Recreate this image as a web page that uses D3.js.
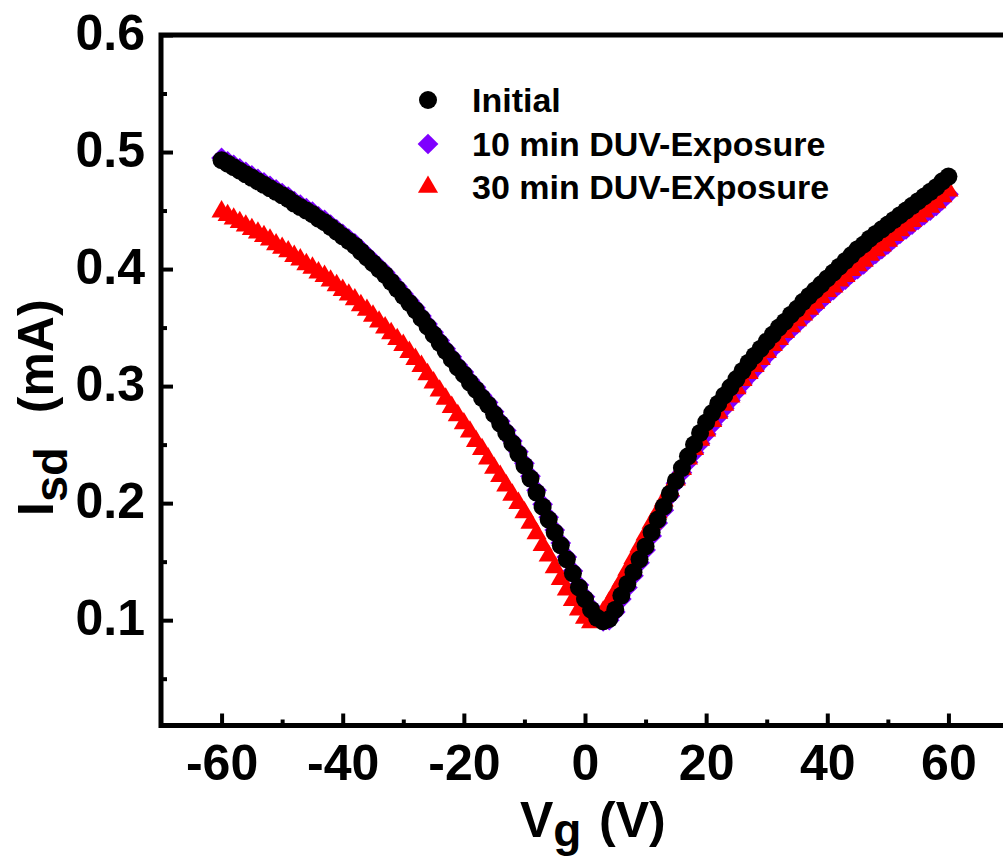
<!DOCTYPE html>
<html>
<head>
<meta charset="utf-8">
<script src="https://cdn.jsdelivr.net/npm/d3@7"></script>
<style>
  html, body { margin: 0; padding: 0; background: #fff; }
  svg { display: block; font-family: "Liberation Sans", Arial, sans-serif; font-weight: bold; }
</style>
</head>
<body>
<script>
// gate voltage sweep (V)
var vg = [
  -60, -59, -58, -57, -56, -55, -54, -53, -52, -51,
  -50, -49, -48, -47, -46, -45, -44, -43, -42, -41,
  -40, -39, -38, -37, -36, -35, -34, -33, -32, -31,
  -30, -29, -28, -27, -26, -25, -24, -23, -22, -21,
  -20, -19, -18, -17, -16, -15, -14, -13, -12, -11,
  -10, -9, -8, -7, -6, -5, -4, -3, -2, -1,
  0, 1, 2, 3, 4, 5, 6, 7, 8, 9,
  10, 11, 12, 13, 14, 15, 16, 17, 18, 19,
  20, 21, 22, 23, 24, 25, 26, 27, 28, 29,
  30, 31, 32, 33, 34, 35, 36, 37, 38, 39,
  40, 41, 42, 43, 44, 45, 46, 47, 48, 49,
  50, 51, 52, 53, 54, 55, 56, 57, 58, 59, 60
];

// Isd (mA) for each series
var isd_initial = [
  0.493, 0.490, 0.487, 0.484, 0.481, 0.478, 0.475, 0.472, 0.469, 0.466,
  0.463, 0.460, 0.456, 0.453, 0.450, 0.447, 0.443, 0.440, 0.436, 0.432,
  0.428, 0.424, 0.420, 0.415, 0.410, 0.405, 0.400, 0.395, 0.389, 0.383,
  0.377, 0.371, 0.365, 0.358, 0.351, 0.344, 0.337, 0.330, 0.323, 0.316,
  0.310, 0.303, 0.297, 0.290, 0.284, 0.276, 0.268, 0.260, 0.251, 0.242,
  0.232, 0.221, 0.209, 0.197, 0.186, 0.175, 0.164, 0.152, 0.140, 0.128,
  0.118, 0.109, 0.102, 0.099, 0.101, 0.109, 0.121, 0.131, 0.141, 0.152,
  0.163, 0.175, 0.186, 0.197, 0.208, 0.219, 0.230, 0.240, 0.250, 0.260,
  0.269, 0.277, 0.285, 0.292, 0.299, 0.306, 0.313, 0.320, 0.326, 0.332,
  0.338, 0.344, 0.350, 0.355, 0.361, 0.366, 0.372, 0.377, 0.382, 0.387,
  0.392, 0.397, 0.402, 0.407, 0.412, 0.417, 0.421, 0.426, 0.430, 0.434,
  0.438, 0.442, 0.446, 0.450, 0.454, 0.458, 0.462, 0.466, 0.470, 0.475, 0.479
];
var isd_10min = [
  0.495, 0.492, 0.489, 0.486, 0.483, 0.480, 0.477, 0.474, 0.471, 0.468,
  0.465, 0.462, 0.458, 0.455, 0.452, 0.449, 0.445, 0.442, 0.438, 0.434,
  0.430, 0.426, 0.422, 0.417, 0.412, 0.407, 0.402, 0.397, 0.391, 0.385,
  0.379, 0.373, 0.367, 0.360, 0.353, 0.346, 0.339, 0.332, 0.325, 0.318,
  0.312, 0.305, 0.299, 0.292, 0.286, 0.278, 0.270, 0.262, 0.253, 0.244,
  0.234, 0.223, 0.211, 0.199, 0.188, 0.177, 0.166, 0.154, 0.142, 0.130,
  0.120, 0.111, 0.103, 0.099, 0.100, 0.107, 0.118, 0.128, 0.138, 0.149,
  0.160, 0.172, 0.183, 0.194, 0.206, 0.217, 0.226, 0.235, 0.243, 0.251,
  0.259, 0.267, 0.274, 0.281, 0.288, 0.295, 0.302, 0.308, 0.314, 0.320,
  0.326, 0.332, 0.337, 0.343, 0.348, 0.353, 0.358, 0.363, 0.368, 0.373,
  0.378, 0.382, 0.387, 0.391, 0.396, 0.400, 0.404, 0.409, 0.413, 0.417,
  0.421, 0.426, 0.430, 0.434, 0.438, 0.442, 0.446, 0.450, 0.454, 0.459, 0.464
];
var isd_30min = [
  0.449, 0.446, 0.443, 0.440, 0.437, 0.434, 0.431, 0.428, 0.425, 0.421,
  0.418, 0.415, 0.411, 0.408, 0.404, 0.401, 0.397, 0.394, 0.390, 0.386,
  0.382, 0.378, 0.374, 0.369, 0.365, 0.360, 0.355, 0.350, 0.345, 0.340,
  0.335, 0.329, 0.323, 0.317, 0.310, 0.303, 0.296, 0.289, 0.282, 0.275,
  0.268, 0.261, 0.253, 0.246, 0.238, 0.230, 0.223, 0.215, 0.207, 0.200,
  0.192, 0.183, 0.174, 0.164, 0.155, 0.145, 0.135, 0.126, 0.117, 0.109,
  0.102, 0.098, 0.101, 0.107, 0.115, 0.124, 0.133, 0.143, 0.153, 0.163,
  0.173, 0.183, 0.192, 0.202, 0.211, 0.220, 0.229, 0.238, 0.246, 0.254,
  0.262, 0.270, 0.277, 0.284, 0.291, 0.298, 0.305, 0.311, 0.317, 0.323,
  0.329, 0.335, 0.340, 0.346, 0.351, 0.356, 0.361, 0.366, 0.371, 0.376,
  0.381, 0.385, 0.390, 0.394, 0.399, 0.403, 0.407, 0.412, 0.416, 0.420,
  0.424, 0.429, 0.433, 0.437, 0.441, 0.445, 0.449, 0.453, 0.457, 0.462, 0.467
];

var series_names = ["Initial", "10 min DUV-Exposure", "30 min DUV-EXposure"];
var series_colors = ["#000000", "#7f00ff", "#ff0000"];
var x_ticks = [-60, -40, -20, 0, 20, 40, 60];
var x_minor = [-50, -30, -10, 10, 30, 50];
var y_ticks = [0.1, 0.2, 0.3, 0.4, 0.5, 0.6];
var y_minor = [0.05, 0.15, 0.25, 0.35, 0.45, 0.55];

// 尺寸
var svg_width = 1003;
var svg_height = 865;
var plot_left = 161, plot_right = 1009, plot_top = 35, plot_bottom = 725.5;
var axis_w = 5;
var font_family = "Liberation Sans, Arial, sans-serif";

var x = d3.scaleLinear().domain([-70, 70]).range([plot_left, plot_right]);
var y = d3.scaleLinear().domain([0.01, 0.6]).range([plot_bottom, plot_top]);

var svg = d3.select("body").append("svg")
  .attr("width", svg_width).attr("height", svg_height);

// 符号
var sym_circle = d3.symbol().type(d3.symbolCircle).size(Math.PI * 9 * 9);
var sym_diamond = d3.symbol().type(d3.symbolSquare).size(215);
var sym_triangle = d3.symbol().type(d3.symbolTriangle).size(175);

function marker(sel, k) {
  if (k == 0) {
    sel.attr("d", sym_circle());
  } else if (k == 1) {
    sel.attr("d", sym_diamond());
  } else {
    sel.attr("d", sym_triangle());
  }
}

render_items();
render_axis();
render_legend();

function render_items() {
  var all = [isd_initial, isd_10min, isd_30min];
  // purple first, then red, black on top
  [1, 2, 0].forEach(function(k) {
    var pts = vg.map(function(v, i) { return [v, all[k][i]]; });
    svg.append("g").selectAll("path")
      .data(pts)
      .enter()
      .append("path")
      .call(marker, k)
      .attr("transform", function(d) {
        var t = "translate(" + x(d[0]) + "," + y(d[1]) + ")";
        return k == 1 ? t + " rotate(45)" : t;
      })
      .attr("fill", series_colors[k]);
  });
}

function style_labels(sel) {
  sel.attr("font-size", 50).attr("font-weight", "bold").attr("fill", "#000")
    .attr("font-family", font_family);
}

function render_axis() {
  // bottom
  var gx = svg.append("g").attr("transform", "translate(0," + plot_bottom + ")")
    .call(d3.axisBottom(x).tickValues(x_ticks).tickSize(-12).tickFormat(function(d) { return String(d); }));
  gx.select(".domain").remove();
  gx.selectAll("line").attr("stroke-width", 4);
  gx.selectAll("text").attr("y", 54.5).attr("dy", 0).call(style_labels);
  var gxm = svg.append("g").attr("transform", "translate(0," + plot_bottom + ")")
    .call(d3.axisBottom(x).tickValues(x_minor).tickSize(-6).tickFormat(""));
  gxm.select(".domain").remove();
  gxm.selectAll("line").attr("stroke-width", 4);

  // left
  var gy = svg.append("g").attr("transform", "translate(" + plot_left + ",0)")
    .call(d3.axisLeft(y).tickValues(y_ticks).tickSize(-12).tickFormat(d3.format(".1f")));
  gy.select(".domain").remove();
  gy.selectAll("line").attr("stroke-width", 4);
  gy.selectAll("text").attr("x", -16).attr("dy", 14).call(style_labels);
  var gym = svg.append("g").attr("transform", "translate(" + plot_left + ",0)")
    .call(d3.axisLeft(y).tickValues(y_minor).tickSize(-6).tickFormat(""));
  gym.select(".domain").remove();
  gym.selectAll("line").attr("stroke-width", 4);

  // frame (right side is off the picture)
  svg.append("path")
    .attr("d", "M" + (svg_width + 10) + "," + plot_top + "H" + plot_left + "V" + plot_bottom + "H" + (svg_width + 10))
    .attr("fill", "none").attr("stroke", "#000").attr("stroke-width", axis_w)
    .attr("stroke-linejoin", "miter").attr("stroke-linecap", "square");

  // axis titles
  var xt = svg.append("text").attr("x", 520).attr("y", 837).attr("font-size", 50);
  xt.append("tspan").text("V");
  xt.append("tspan").attr("dy", 9).attr("font-size", 46).text("g");
  xt.append("tspan").attr("x", 599).attr("y", 837).text("(V)");

  var yt = svg.append("text").attr("transform", "translate(53,516) rotate(-90)").attr("font-size", 50);
  yt.append("tspan").text("I");
  yt.append("tspan").attr("dy", 14).attr("font-size", 47).text("sd");
  yt.append("tspan").attr("dy", -14).attr("dx", 34).text("(mA)");
}

function render_legend() {
  var lg = svg.append("g");
  var row_y = [100, 144, 187];
  series_names.forEach(function(name, k) {
    lg.append("path").call(marker, k)
      .attr("transform", "translate(428," + row_y[k] + ")" + (k == 1 ? " rotate(45)" : ""))
      .attr("fill", series_colors[k]);
    lg.append("text").attr("x", 472).attr("y", row_y[k] + 12)
      .attr("font-size", 34).text(name);
  });
}
</script>
</body>
</html>
